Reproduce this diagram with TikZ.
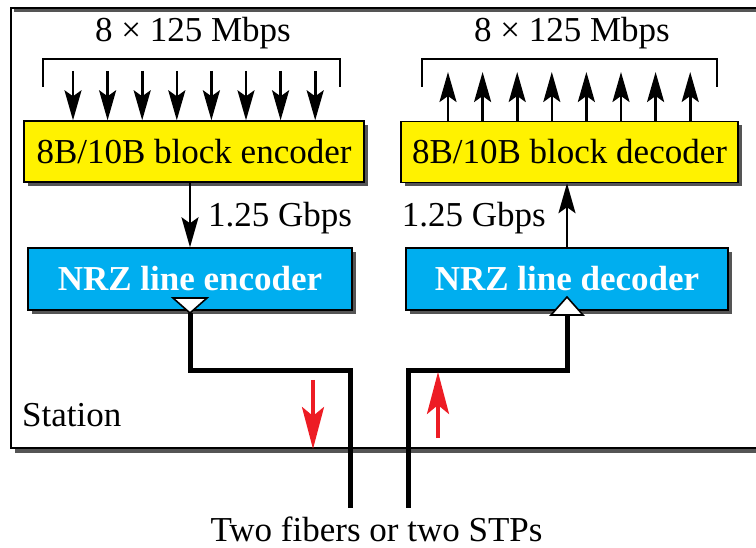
\documentclass[tikz,border=0pt]{standalone}
\usepackage{fontspec}
\setmainfont{Liberation Serif}
\usetikzlibrary{arrows.meta}
\definecolor{boxyellow}{HTML}{FFF200}
\definecolor{boxblue}{HTML}{00AEEF}
\definecolor{arrred}{HTML}{ED1C24}
\definecolor{shadowgray}{HTML}{555555}
\tikzset{
  txt/.style={font=\fontsize{35}{40}\selectfont, inner sep=0pt},
  shadowed/.style={preaction={fill=shadowgray, transform canvas={shift={(4pt,-4pt)}}}},
  ybox/.style={txt, draw=black, line width=1.4pt, fill=boxyellow, shadowed, minimum height=61pt},
  bbox/.style={txt, draw=black, line width=1.4pt, fill=boxblue, shadowed, minimum height=62pt, text=white, font=\fontsize{35}{40}\selectfont\bfseries},
  thinarr/.style={line width=2.6pt, -{Stealth[length=30pt,width=17pt,inset=6pt]}},
  bracket/.style={line width=1.4pt},
  fiber/.style={line width=5pt},
  redarr/.style={arrred, line width=3.5pt, -{Stealth[length=42pt,width=22pt,inset=9pt]}},
  tri/.style={draw=black, line width=1.6pt, fill=white},
}
\begin{document}
\begin{tikzpicture}[x=1pt,y=-1pt]
\useasboundingbox (0,0) rectangle (756,548);
% station box
\draw[shadowgray, line width=3pt] (770,10.5) -- (14,10.5);
\draw[shadowgray, line width=4pt] (15,450.5) -- (770,450.5);
\draw[line width=2pt] (770,8) -- (11,8) -- (11,448) -- (770,448);
\node[txt, anchor=base west] (station) at (22,427) {Station};

% boxes
\node[ybox, minimum width=340pt] (yenc) at (194,151.5) {8B/10B block encoder};
\node[ybox, minimum width=337pt] (ydec) at (569.5,152) {8B/10B block decoder};
\node[bbox, minimum width=324pt] (benc) at (190,279) {NRZ line encoder};
\node[bbox, minimum width=322pt] (bdec) at (567,279) {NRZ line decoder};

% labels
\node[txt, anchor=base] (lenc) at (193,42) {8 × 125 Mbps};
\node[txt, anchor=base] (ldec) at (572,42) {8 × 125 Mbps};
\node[txt, anchor=base west] (genc) at (208,227) {1.25 Gbps};
\node[txt, anchor=base east] (gdec) at (546,227) {1.25 Gbps};
\node[txt, anchor=base] (fib) at (376.5,541) {Two fibers or two STPs};

% brackets
\draw[bracket] (43,87) -- (43,59) -- (340,59) -- (340,87);
\draw[bracket] (422,87) -- (422,59) -- (717,59) -- (717,87);

% eight arrows
\foreach \i in {0,...,7}{
  \coordinate (ein\i) at ({73+34.6*\i},71);
  \draw[thinarr] (ein\i) -- (ein\i |- yenc.north);
  \coordinate (dout\i) at ({448+34.6*\i},72);
  \draw[thinarr] (dout\i |- ydec.north) -- (dout\i);
}

% inner arrows
\draw[thinarr] (yenc.south -| benc.north) -- (benc.north);
\draw[thinarr] (bdec.north) -- (ydec.south -| bdec.north);

% fibers
\coordinate (e1) at (190,313);
\coordinate (e2) at (190,371);
\coordinate (e3) at (350,371);
\coordinate (e4) at (350,508);
\draw[fiber] (e1) -- (e2) -- (e3) -- (e4);
\coordinate (d1) at (567,315);
\coordinate (d2) at (567,371);
\coordinate (d3) at (408,371);
\coordinate (d4) at (408,508);
\draw[fiber] (d1) -- (d2) -- (d3) -- (d4);

% triangles
\draw[tri] (173,298) -- (207,298) -- (190,313) -- cycle;
\draw[tri] (551,315) -- (583,315) -- (567,297) -- cycle;

% red arrows
\coordinate (r1s) at (313,380);
\coordinate (r1e) at (313,449);
\draw[redarr] (r1s) -- (r1e);
\coordinate (r2s) at (438,438);
\coordinate (r2e) at (438,372);
\draw[redarr] (r2s) -- (r2e);
\end{tikzpicture}
\end{document}
